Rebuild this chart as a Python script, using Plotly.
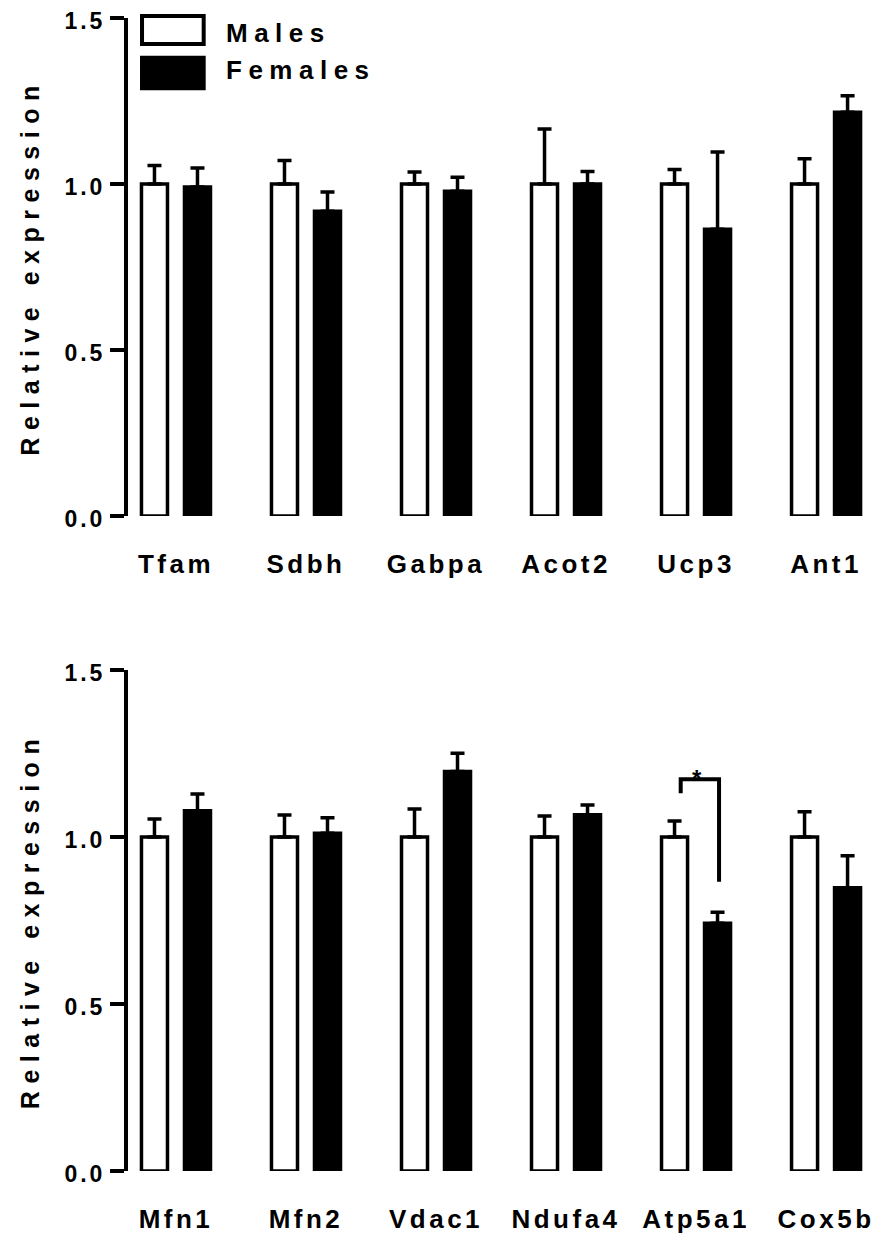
import plotly.graph_objects as go

# ---------------- data ----------------
genes_top = ["Tfam", "Sdbh", "Gabpa", "Acot2", "Ucp3", "Ant1"]
male_top = [1.00, 1.00, 1.00, 1.00, 1.00, 1.00]
male_top_err = [0.056, 0.071, 0.036, 0.166, 0.044, 0.076]
female_top = [0.991, 0.918, 0.978, 1.000, 0.864, 1.216]
female_top_err = [0.057, 0.058, 0.042, 0.038, 0.232, 0.050]

genes_bot = ["Mfn1", "Mfn2", "Vdac1", "Ndufa4", "Atp5a1", "Cox5b"]
male_bot = [1.00, 1.00, 1.00, 1.00, 1.00, 1.00]
male_bot_err = [0.054, 0.066, 0.084, 0.063, 0.048, 0.076]
female_bot = [1.079, 1.011, 1.196, 1.067, 0.742, 0.848]
female_bot_err = [0.050, 0.047, 0.055, 0.029, 0.033, 0.096]

# significance bracket (Atp5a1, males vs females)
sig_x = [3.882, 3.882, 4.177, 4.177]
sig_y = [1.131, 1.173, 1.173, 0.866]
sig_star_x = 4.01
sig_label = "*"

y_ticks = [0, 0.5, 1.0, 1.5]
y_ticklabels = ["0.0", "0.5", "1.0", "1.5"]

FONT = "Liberation Sans, Arial, sans-serif"


def spaced(s, px):
    return f'<span style="letter-spacing:{px}px">{s}</span>'


fig = go.Figure()

panels = [
    (genes_top, male_top, male_top_err, female_top, female_top_err, "x", "y"),
    (genes_bot, male_bot, male_bot_err, female_bot, female_bot_err, "x2", "y2"),
]

for genes, m, me, f, fe, xa, ya in panels:
    idx = list(range(len(genes)))
    fig.add_trace(go.Bar(
        x=idx, y=m, name="Males", xaxis=xa, yaxis=ya,
        marker=dict(color="white", line=dict(color="black", width=3.5)),
        error_y=dict(type="data", array=me, arrayminus=[0] * len(me), symmetric=False,
                     color="black", thickness=3.5, width=7),
        cliponaxis=False, showlegend=False,
    ))
    fig.add_trace(go.Bar(
        x=idx, y=f, name="Females", xaxis=xa, yaxis=ya,
        marker=dict(color="black", line=dict(color="black", width=3.5)),
        error_y=dict(type="data", array=fe, arrayminus=[0] * len(fe), symmetric=False,
                     color="black", thickness=3.5, width=7),
        cliponaxis=False, showlegend=False,
    ))

# significance bracket
fig.add_trace(go.Scatter(
    x=sig_x, y=sig_y, xaxis="x2", yaxis="y2", mode="lines",
    line=dict(color="black", width=4), showlegend=False, hoverinfo="skip",
    cliponaxis=False,
))
fig.add_annotation(
    x=sig_star_x, y=sig_y[1], xref="x2", yref="y2",
    text=sig_label, showarrow=False, yanchor="bottom", yshift=-15,
    font=dict(family=FONT, size=24, color="black", weight="bold"),
)

xaxis_common = dict(
    range=[-0.369, 5.338], showline=False, zeroline=False, showgrid=False,
    automargin=False,
    ticks="", tickvals=list(range(6)), ticklabelstandoff=30,
    tickfont=dict(family=FONT, size=26, color="black", weight="bold"),
)
yaxis_common = dict(
    range=[0, 1.5], showline=True, linecolor="black", linewidth=4,
    automargin=False, ticklabeloverflow="allow", ticklabelshift=3,
    zeroline=False, showgrid=False, ticks="outside", ticklen=14, tickwidth=4,
    tickcolor="black", tickvals=y_ticks,
    ticktext=[spaced(t, 3) for t in y_ticklabels], ticklabelstandoff=0,
    tickfont=dict(family=FONT, size=23, color="black", weight="bold"),
    title=dict(text=spaced("Relative expression", 7.5), standoff=19,
               font=dict(family=FONT, size=25, color="black", weight="bold")),
)

fig.update_layout(
    width=872, height=1233,
    margin=dict(l=120, r=10, t=10, b=70),
    paper_bgcolor="white", plot_bgcolor="white",
    barmode="group", bargap=0.3385, bargroupgap=0.395,
    xaxis=dict(**xaxis_common, domain=[0, 1], anchor="y",
               ticktext=[spaced(g, 3.5) for g in genes_top]),
    yaxis=dict(**yaxis_common, domain=[0.5681, 1.0], anchor="x"),
    xaxis2=dict(**xaxis_common, domain=[0, 1], anchor="y2",
                ticktext=[spaced(g, 3.5) for g in genes_bot]),
    yaxis2=dict(**yaxis_common, domain=[0.0, 0.4345], anchor="x2"),
)

# legend drawn in the top panel (boxes + labels)
legend_items = [("Males", "white", 0.948, 1.004, 0.970),
                ("Females", "black", 0.859, 0.920, 0.896)]
for label, fill, y0, y1, ty in legend_items:
    fig.add_shape(type="rect", xref="x domain", yref="y domain",
                  x0=0.0189, x1=0.102, y0=y0, y1=y1,
                  fillcolor=fill, line=dict(color="black", width=4))
    fig.add_annotation(xref="x domain", yref="y domain", x=0.13, y=ty,
                       xanchor="left", yanchor="middle", showarrow=False,
                       text=spaced(label, 6.5),
                       font=dict(family=FONT, size=26, color="black", weight="bold"))

fig.write_html("out.html")
